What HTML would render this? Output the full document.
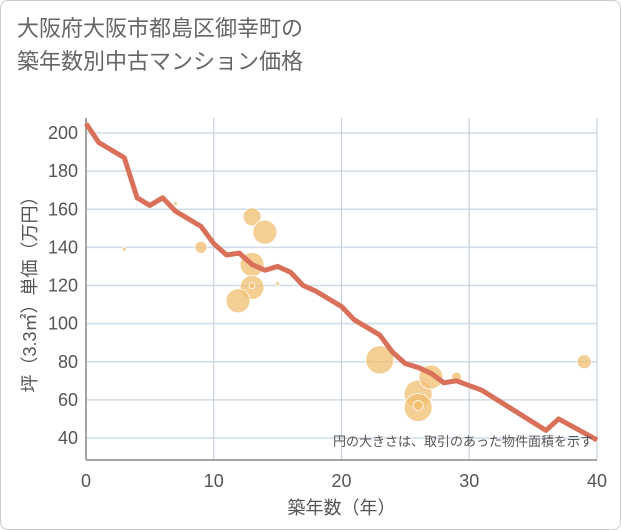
<!DOCTYPE html>
<html><head><meta charset="utf-8"><style>
body{margin:0;background:#fff;}
#wrap{position:relative;width:619px;height:528px;border:1px solid #ccc;border-radius:8px;background:#fff;overflow:hidden;font-family:"Liberation Sans","Noto Sans CJK JP",sans-serif;}
#title{position:absolute;left:16px;top:11px;font-size:22px;line-height:33px;color:#666;}
svg text{font-family:"Liberation Sans","Noto Sans CJK JP",sans-serif;}
</style></head><body>
<div id="wrap">
<div id="title">大阪府大阪市都島区御幸町の<br>築年数別中古マンション価格</div>
<svg id="chart" width="621" height="530" style="position:absolute;left:-1px;top:-1px"></svg>
</div>
<script>
const lineX=[0,1,3,4,5,6,7,9,10,11,12,13,14,15,16,17,18,20,21,23,24,25,26,27,28,29,31,36,37,40];
const lineY=[205,195,187,166,162,166,159,151,142,136,137,131,128,130,127,120,117,109,102,94,85,79,77,74,69,70,65,44,50,39];
const bubX=[3,7,9,13,14,13,13,11.9,13,15,23,26,27,26,26,29,28,39];
const bubY=[139,163,140,156,148,131,119,112,120,121,81,63,72,56,57,72,69,80];
const bubR=[2,2,6,9,12,12,12,12,3,2,14,14,12,14,5,5,3,7];
const xTicks=[0,10,20,30,40];
const yTicks=[40,60,80,100,120,140,160,180,200];
const NS='http://www.w3.org/2000/svg';
const svg=document.getElementById('chart');
const L=86,R=597,T=118,B=460;
const xs=v=>L+(v-0)/40*(R-L);
const ys=v=>438-(v-40)*(305/160);
function mk(t,a){const e=document.createElementNS(NS,t);for(const k in a)e.setAttribute(k,a[k]);svg.appendChild(e);return e;}
let g;
g=mk('rect',{x:L,y:T,width:R-L,height:B-T,fill:'#fff'});


yTicks.forEach(v=>{
 let l=mk('line',{x1:L,x2:R,y1:ys(v),y2:ys(v),stroke:'#cfdbe6','stroke-width':1.5});
 
 
 let t=mk('text',{x:L-8,y:ys(v)+6,'text-anchor':'end','font-size':18,fill:'#555'});t.textContent=v;
 
 
});
xTicks.forEach(v=>{
 let l=mk('line',{x1:xs(v),x2:xs(v),y1:T,y2:B,stroke:'#c6d2de','stroke-width':1.2});
 
 
 let t=mk('text',{x:xs(v),y:B+27,'text-anchor':'middle','font-size':18,fill:'#555'});t.textContent=v;
 
 
});
g=mk('line',{x1:L,x2:L,y1:T,y2:B,stroke:'#888','stroke-width':1.5});


g=mk('line',{x1:L,x2:R,y1:B,y2:B,stroke:'#888','stroke-width':1.5});


bubX.forEach((x,i)=>{
 let c=mk('circle',{cx:xs(x),cy:ys(bubY[i]),r:bubR[i],fill:'rgba(240,190,110,0.75)',stroke:'#fff','stroke-width':0.8});
 
 
});
let p=mk('polyline',{points:lineX.map((x,i)=>xs(x)+','+ys(lineY[i])).join(' '),fill:'none',stroke:'#d9705a','stroke-width':5,'stroke-linejoin':'round'});


let n=mk('text',{x:593,y:446,'text-anchor':'end','font-size':13,fill:'#555'});n.textContent='円の大きさは、取引のあった物件面積を示す';


let xt=mk('text',{x:(L+R)/2,y:514,'text-anchor':'middle','font-size':18,fill:'#555'});xt.textContent='築年数（年）';


let yt=mk('text',{x:0,y:0,'text-anchor':'middle','font-size':18,fill:'#555',transform:'translate(36,290) rotate(-90)'});yt.textContent='坪（3.3㎡）単価（万円）';


</script>
</body></html>
